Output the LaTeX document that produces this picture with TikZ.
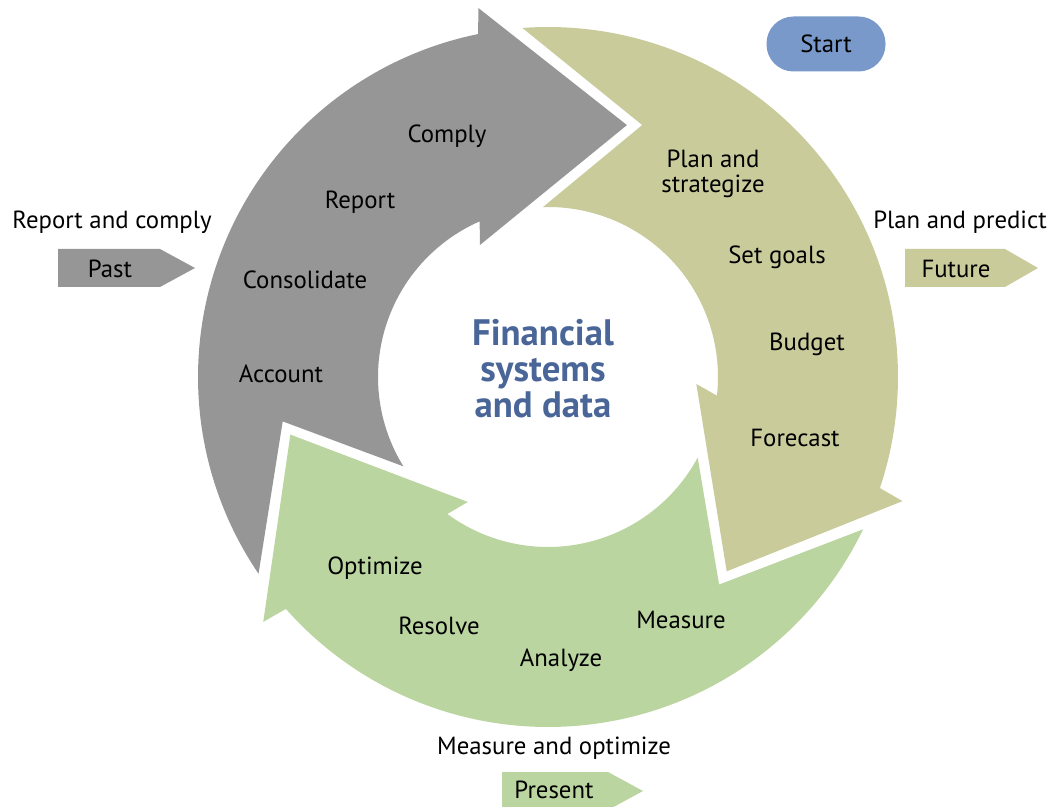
\documentclass[tikz,border=0pt]{standalone}
\usepackage{fontspec}
\setmainfont{PT Sans}
\definecolor{pastgray}{HTML}{969696}
\definecolor{futureolive}{HTML}{C9CB9B}
\definecolor{presentgreen}{HTML}{BAD5A0}
\definecolor{startblue}{HTML}{7899C9}
\definecolor{titleblue}{HTML}{4A6698}
% One curved arrow of the cycle, drawn around the origin (canvas units, y up)
\newcommand{\cyclearrow}{%
  (214.2:175pt) arc[start angle=214.2, end angle=101.5, radius=175pt]
  -- (100.7:187.8pt) -- (72.6:132pt) -- (117.3:74.25pt) -- (113.7:85pt)
  arc[start angle=113.7, end angle=211.7, radius=85pt]
  -- (189.5:134.5pt) -- cycle}
\begin{document}
\begin{tikzpicture}[x=0.5pt,y=-0.5pt,
  lbl/.style={font=\fontsize{12.4}{12.5}\selectfont, text=black, inner sep=0pt},
  title/.style={font=\bfseries\fontsize{18.4}{18}\selectfont, text=titleblue,
    align=center, inner sep=0pt},
  startbox/.style={fill=startblue, rounded corners=13.5pt, minimum width=59.5pt,
    minimum height=27.5pt, inner sep=0pt, font=\fontsize{12.4}{13}\selectfont}]
\useasboundingbox (0,0) rectangle (1050,807);

% the three ring arrows
\begin{scope}[shift={(548,377)}]
  \fill[pastgray] \cyclearrow;
  \fill[futureolive, rotate=-120] \cyclearrow;
  \fill[presentgreen, rotate=120] \cyclearrow;
\end{scope}

% centre title
\node[title] (core) at (543,369) {Financial\\systems\\and data};

% stage labels
\node[lbl] (comply) at (447,136) {Comply};
\node[lbl] (report) at (360,202) {Report};
\node[lbl] (consolidate) at (305,280) {Consolidate};
\node[lbl] (account) at (281,374) {Account};
\node[lbl, align=center] (plan) at (713,174) {Plan and\\strategize};
\node[lbl] (goals) at (777,257) {Set goals};
\node[lbl] (budget) at (807,344) {Budget};
\node[lbl] (forecast) at (795,438) {Forecast};
\node[lbl] (measure) at (681,620) {Measure};
\node[lbl] (analyze) at (561,660) {Analyze};
\node[lbl] (resolve) at (439,626) {Resolve};
\node[lbl] (optimize) at (375,568) {Optimize};

% time-frame tags
\node[lbl] (pasthead) at (112,222) {Report and comply};
\fill[pastgray] (58,249) -- (160,249) -- (195,268) -- (160,287) -- (58,287) -- cycle;
\node[lbl] (past) at (110,269) {Past};

\node[lbl] (futurehead) at (960,222) {Plan and predict};
\fill[futureolive] (905,249) -- (1005,249) -- (1038,268) -- (1005,287) -- (905,287) -- cycle;
\node[lbl] (future) at (956,269) {Future};

\node[lbl] (presenthead) at (554,748) {Measure and optimize};
\fill[presentgreen] (502,772) -- (608,772) -- (643,791) -- (608,810) -- (502,810) -- cycle;
\node[lbl] (present) at (554,790) {Present};

% start marker
\node[startbox] (start) at (826,44) {Start};
\end{tikzpicture}
\end{document}
